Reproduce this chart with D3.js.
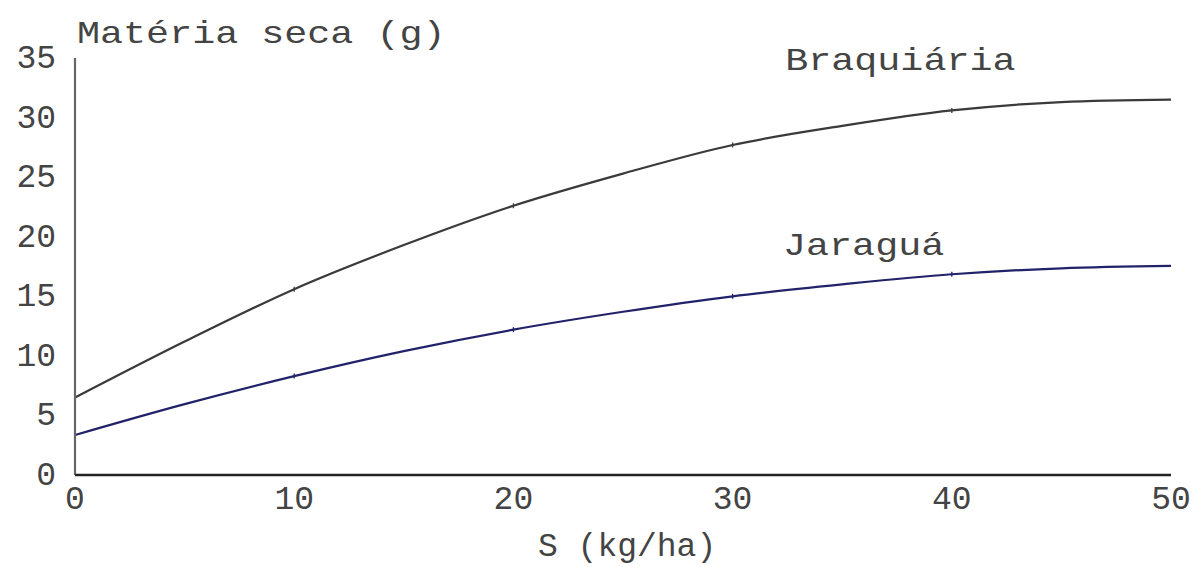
<!DOCTYPE html>
<html>
<head>
<meta charset="utf-8">
<script src="https://d3js.org/d3.v7.min.js"></script>
<style>
  html, body { margin: 0; padding: 0; background: #fff; }
  svg { display: block; }
  text { font-family: "Courier New", "Liberation Mono", monospace; fill: #444; }
</style>
</head>
<body>
<svg id="chart" width="1200" height="567"></svg>
<script>
// Dry matter (g) as a function of sulfur dose S (kg/ha)
const doses = [0, 5, 10, 15, 20, 25, 30, 35, 40, 45, 50];
const braquiaria = [6.5, 11.2, 15.6, 19.3, 22.6, 25.3, 27.7, 29.3, 30.6, 31.3, 31.5];
const jaragua = [3.36, 5.95, 8.3, 10.4, 12.2, 13.7, 15.0, 16.0, 16.85, 17.35, 17.55];
const markerDoses = [10, 20, 30, 40];
const xTicks = [0, 10, 20, 30, 40, 50];
const yTicks = [0, 5, 10, 15, 20, 25, 30, 35];

const svg = d3.select("#chart");
const x = d3.scaleLinear().domain([0, 50]).range([75, 1171]);
const y = d3.scaleLinear().domain([0, 35]).range([475, 58]);

// curves
const line = d3.line().x((d, i) => x(doses[i])).y(d => y(d)).curve(d3.curveMonotoneX);
const series = [
  { name: "Braquiária", values: braquiaria, color: "#3a3a3a", lx: 32.4, ly: 34.0 },
  { name: "Jaraguá", values: jaragua, color: "#22226a", lx: 32.3, ly: 18.5 }
];

series.forEach(s => {
  svg.append("path")
    .attr("d", line(s.values))
    .attr("fill", "none")
    .attr("stroke", s.color)
    .attr("stroke-width", 2.2);
  // small marks at the sampled doses
  svg.selectAll(null)
    .data(markerDoses)
    .enter().append("line")
    .attr("x1", d => x(d)).attr("x2", d => x(d))
    .attr("y1", d => y(s.values[doses.indexOf(d)]) - 2.5)
    .attr("y2", d => y(s.values[doses.indexOf(d)]) + 2.5)
    .attr("stroke", s.color)
    .attr("stroke-width", 1.3);
});

// axes
svg.append("line")
  .attr("x1", x(0)).attr("x2", x(0))
  .attr("y1", y(35)).attr("y2", y(0))
  .attr("stroke", "#666").attr("stroke-width", 2.2);
svg.append("line")
  .attr("x1", x(0)).attr("x2", x(50))
  .attr("y1", y(0)).attr("y2", y(0))
  .attr("stroke", "#222").attr("stroke-width", 2.6);

// tick labels
const tickFont = 33;
svg.selectAll(".xt")
  .data(xTicks)
  .enter().append("text")
  .attr("class", "xt")
  .attr("x", d => x(d))
  .attr("y", 509)
  .attr("text-anchor", "middle")
  .attr("font-size", tickFont)
  .text(d => d);

svg.selectAll(".yt")
  .data(yTicks)
  .enter().append("text")
  .attr("class", "yt")
  .attr("x", 56)
  .attr("y", d => y(d) + 10)
  .attr("text-anchor", "end")
  .attr("font-size", tickFont)
  .text(d => d);

// titles and series labels (glyphs slightly widened)
function label(txt, px, py, size, sx) {
  svg.append("text")
    .attr("transform", `translate(${px},${py}) scale(${sx},1)`)
    .attr("font-size", size)
    .text(txt);
}
label("Matéria seca (g)", 77, 43, 32, 1.2);
label("S (kg/ha)", 538, 556, 33, 1.0);
series.forEach(s => label(s.name, x(s.lx), y(s.ly), 32, 1.2));
</script>
</body>
</html>
